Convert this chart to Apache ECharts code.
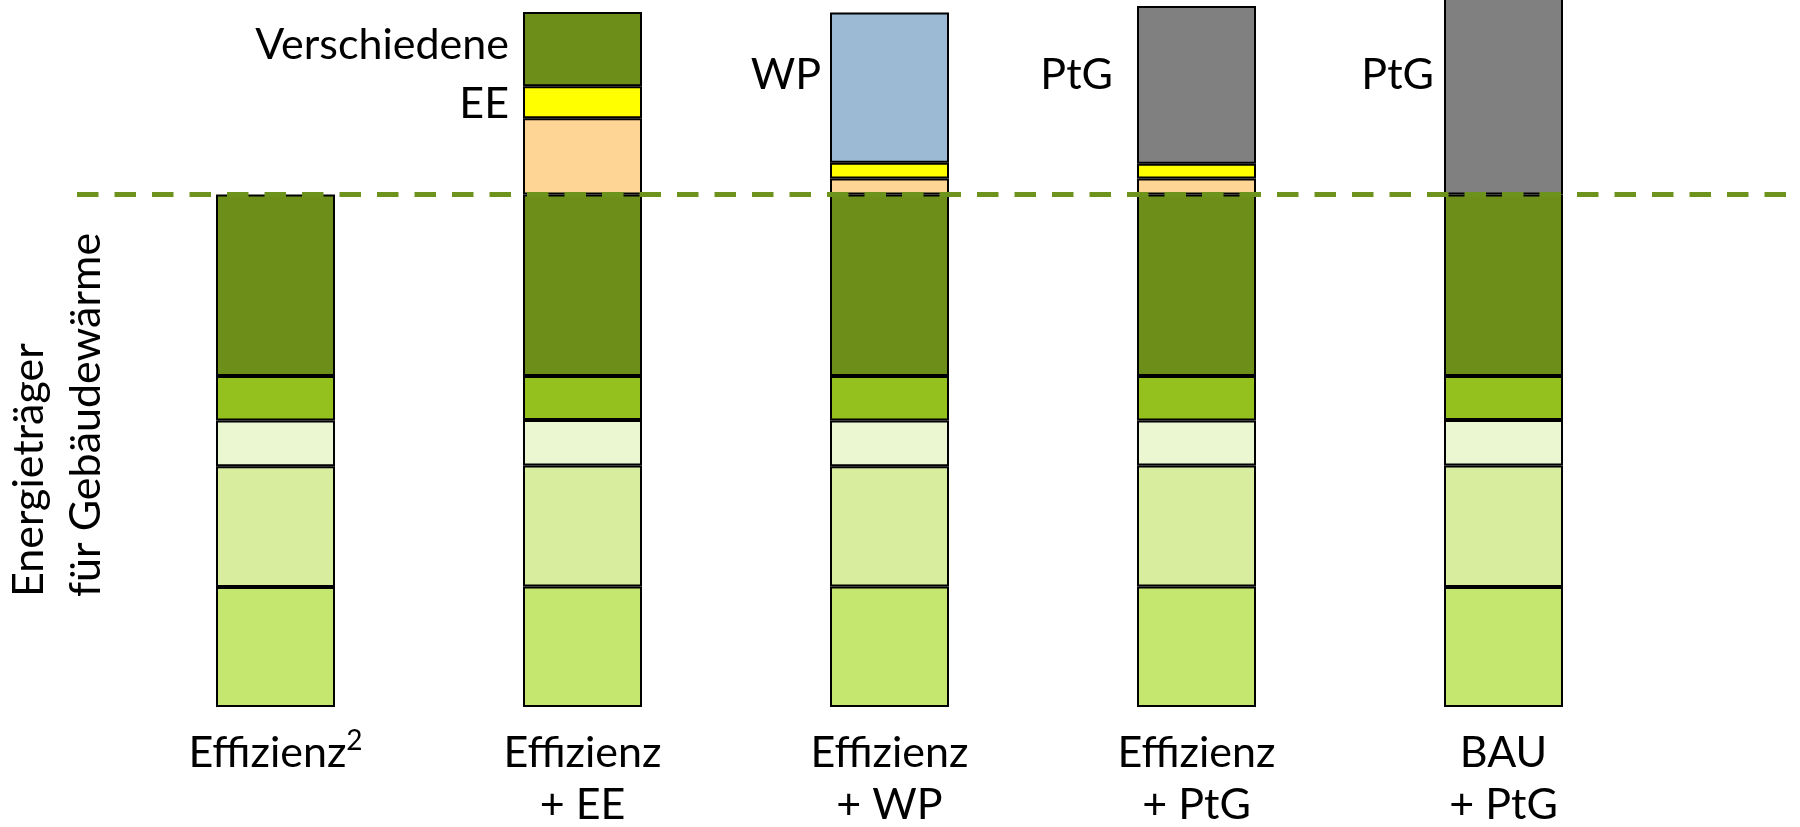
<!DOCTYPE html>
<html>
<head>
<meta charset="utf-8">
<script src="https://cdn.jsdelivr.net/npm/echarts@6/dist/echarts.min.js"></script>
<style>
  html, body { margin: 0; padding: 0; background: #fff; }
  #chart { width: 1800px; height: 827px; }
</style>
</head>
<body>
<div id="chart"></div>
<script>
// Scenarios shown along the bottom
const scenarios = ['Effizienz²', 'Effizienz\n+ EE', 'Effizienz\n+ WP', 'Effizienz\n+ PtG', 'BAU\n+ PtG'];

// Energy carriers for building heat, bottom to top
const carrierA = [23.4, 23.5, 23.5, 23.5, 23.4];
const carrierB = [23.6, 23.6, 23.5, 23.6, 23.7];
const carrierC = [8.9, 8.9, 8.9, 8.8, 8.9];
const carrierD = [8.7, 8.6, 8.7, 8.7, 8.6];
const carrierE = [35.4, 35.4, 35.4, 35.4, 35.4];

// Supply stacked above the heat demand level
const extraLower = [null, 14.9, 3.1, 3.1, null];
const extraUpper = [null, 6.2, 3.1, 2.9, null];
const variousRE = [null, 14.5, null, null, null];
const heatPumps = [null, null, 29.3, null, null];
const powerToGas = [null, null, null, 30.8, 40];

// Heat demand level (dashed line)
const demandLevel = 100;

// Names written next to the top blocks
const topLabels = ['Verschiedene\nEE', 'WP', 'PtG'];

const FONT = 'Lato';
const AXIS_MAX = 140;

const chart = echarts.init(document.getElementById('chart'), null, { renderer: 'canvas' });

function block(name, values, color, labels) {
  return {
    name: name,
    type: 'bar',
    stack: 'total',
    xAxisIndex: 0,
    yAxisIndex: 0,
    barWidth: 119,
    itemStyle: { color: color, borderColor: '#000', borderWidth: 2 },
    data: values.map((v, i) => {
      if (labels && labels[i]) {
        return { value: v, label: Object.assign({ show: true, color: '#000', fontFamily: FONT, fontSize: 43 }, labels[i]) };
      }
      return v;
    })
  };
}

const series = [
  block('Träger A', carrierA, '#C5E770'),
  block('Träger B', carrierB, '#D8EE9E'),
  block('Träger C', carrierC, '#EBF7D1'),
  block('Träger D', carrierD, '#95C11F'),
  block('Träger E', carrierE, '#6D8F1A'),
  block('Zusatz unten', extraLower, '#FFD595'),
  block('Zusatz oben', extraUpper, '#FFFF00'),
  block('Verschiedene EE', variousRE, '#6D8F1A', {
    1: { formatter: topLabels[0], position: [-14, 3.5], align: 'right', verticalAlign: 'top', lineHeight: 59 }
  }),
  block('WP', heatPumps, '#9DBAD4', {
    2: { formatter: topLabels[1], position: 'left', distance: 9, offset: [0, -12.2] }
  }),
  block('PtG', powerToGas, '#808080', {
    3: { formatter: topLabels[2], position: 'left', distance: 24, offset: [0, -9.5] },
    4: { formatter: topLabels[2], position: 'left', distance: 10, offset: [0, -16.8] }
  }),
  {
    name: 'Wärmebedarf',
    type: 'line',
    xAxisIndex: 1,
    yAxisIndex: 1,
    z: 10,
    symbol: 'none',
    silent: true,
    lineStyle: { color: '#6E931C', width: 5, type: [21.5, 16], cap: 'butt' },
    data: [[0, demandLevel], [1, demandLevel]]
  }
];

chart.setOption({
  animation: false,
  backgroundColor: '#fff',
  grid: [
    { left: 122, right: 143, top: -10.5, bottom: 120, outerBoundsMode: 'none', containLabel: false },
    { left: 77, right: 0, top: -10.5, bottom: 120, outerBoundsMode: 'none', containLabel: false }
  ],
  xAxis: [
    {
      type: 'category',
      gridIndex: 0,
      data: scenarios,
      axisLine: { show: false },
      axisTick: { show: false },
      axisLabel: {
        interval: 0,
        margin: 20,
        color: '#000',
        fontFamily: FONT,
        fontSize: 43,
        lineHeight: 52,
        // larger raised "2" for the superscript
        formatter: (v) => v.replace('²', '{sup|2}'),
        rich: {
          sup: { fontFamily: FONT, fontSize: 28, lineHeight: 30, color: '#000', verticalAlign: 'top' }
        }
      }
    },
    { type: 'value', gridIndex: 1, min: 0, max: 1, show: false }
  ],
  yAxis: [
    { type: 'value', gridIndex: 0, min: 0, max: AXIS_MAX, show: false, splitLine: { show: false } },
    { type: 'value', gridIndex: 1, min: 0, max: AXIS_MAX, show: false, splitLine: { show: false } }
  ],
  graphic: [
    {
      type: 'text',
      x: 1,
      y: 597,
      rotation: Math.PI / 2,
      style: {
        text: 'Energieträger\nfür Gebäudewärme',
        fontFamily: FONT,
        fontSize: 43,
        lineHeight: 57,
        fill: '#000',
        align: 'left',
        verticalAlign: 'top'
      }
    }
  ],
  series: series
});
</script>
</body>
</html>
